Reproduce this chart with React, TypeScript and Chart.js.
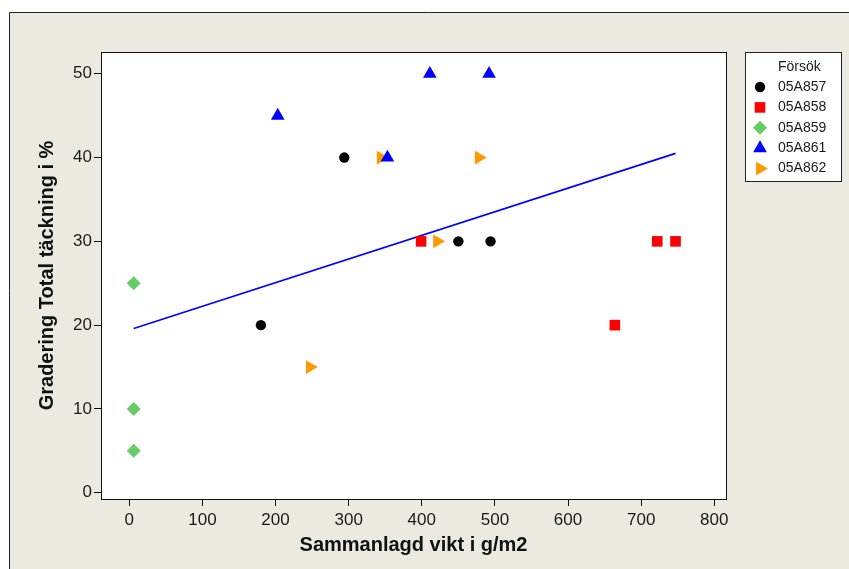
import React, { useEffect, useRef } from 'react';
import { Chart, registerables } from 'chart.js';
import { drawPoint } from 'chart.js/helpers';

Chart.register(...registerables);

// Försök (trial) series: total weight (g/m2) vs. coverage rating (%)
const seriesNames = ['05A857', '05A858', '05A859', '05A861', '05A862'];

const x857 = [180, 294, 450, 494];
const y857 = [20, 40, 30, 30];

const x858 = [399, 722, 747, 664];
const y858 = [30, 30, 30, 20];

const x859 = [6, 6, 6];
const y859 = [25, 10, 5];

const x861 = [203, 411, 492, 353];
const y861 = [45, 50, 50, 40];

const x862 = [344, 421, 478, 247];
const y862 = [40, 30, 40, 15];

// fitted regression line end points
const fitX = [6, 747];
const fitY = [19.6, 40.5];

const xTicks = [0, 100, 200, 300, 400, 500, 600, 700, 800];
const yTicks = [0, 10, 20, 30, 40, 50];

const xTitle = 'Sammanlagd vikt i g/m2';
const yTitle = 'Gradering Total täckning i %';
const legendTitle = 'Försök';

const seriesX = [x857, x858, x859, x861, x862];
const seriesY = [y857, y858, y859, y861, y862];

const colors = ['#000000', '#FF0000', '#66CC66', '#0000FF', '#FF9900'];
const pointStyles = ['circle', 'rect', 'rectRot', 'triangle', 'triangle'];
const rotations = [0, 0, 0, 0, 90];
const radii = [5.2, 7.5, 7, 7.9, 7.9];

const FONT = '"Liberation Sans", Arial, sans-serif';
const BEIGE = '#ECE9E0';
const INK = '#1a1a1a';

const framePlugin = {
  id: 'frame',
  beforeDraw(chart: any) {
    const { ctx, width, height, chartArea } = chart;
    ctx.save();
    ctx.fillStyle = '#ffffff';
    ctx.fillRect(0, 0, width, height);
    ctx.fillStyle = BEIGE;
    ctx.fillRect(9, 12, width - 9, height - 12);
    ctx.strokeStyle = '#222';
    ctx.lineWidth = 1;
    ctx.beginPath();
    ctx.moveTo(9.5, height);
    ctx.lineTo(9.5, 12.5);
    ctx.lineTo(width, 12.5);
    ctx.stroke();
    ctx.fillStyle = '#ffffff';
    ctx.fillRect(chartArea.left, chartArea.top, chartArea.right - chartArea.left, chartArea.bottom - chartArea.top);
    ctx.restore();
  },
  afterDatasetsDraw(chart: any) {
    const { ctx, chartArea } = chart;
    ctx.save();
    ctx.strokeStyle = '#111';
    ctx.lineWidth = 1;
    ctx.strokeRect(chartArea.left + 0.5, chartArea.top + 0.5, chartArea.right - chartArea.left, chartArea.bottom - chartArea.top);
    ctx.restore();
  },
};

const legendPlugin = {
  id: 'trialLegend',
  afterDraw(chart: any) {
    const { ctx } = chart;
    const bx = 745;
    const by = 52;
    const bw = 97;
    const bh = 130;
    ctx.save();
    ctx.fillStyle = '#ffffff';
    ctx.fillRect(bx, by, bw, bh);
    ctx.strokeStyle = '#222';
    ctx.lineWidth = 1;
    ctx.strokeRect(bx + 0.5, by + 0.5, bw - 1, bh - 1);
    ctx.fillStyle = INK;
    ctx.font = `14px ${FONT}`;
    ctx.textBaseline = 'middle';
    ctx.textAlign = 'left';
    ctx.fillText(legendTitle, 778, 67);
    seriesNames.forEach((name, i) => {
      const y = 87 + i * 20.4;
      ctx.fillStyle = colors[i];
      drawPoint(ctx, { pointStyle: pointStyles[i], rotation: rotations[i], radius: radii[i], borderWidth: 0 } as any, 760, y);
      ctx.fillStyle = INK;
      ctx.fillText(name, 778, y);
    });
    ctx.restore();
  },
};

export default function App() {
  const ref = useRef<HTMLCanvasElement>(null);

  useEffect(() => {
    const canvas = ref.current;
    if (!canvas) return;

    const datasets: any[] = seriesNames.map((name, i) => ({
      label: name,
      data: seriesX[i].map((x, j) => ({ x, y: seriesY[i][j] })),
      pointStyle: pointStyles[i],
      rotation: rotations[i],
      pointRadius: radii[i],
      pointBackgroundColor: colors[i],
      pointBorderColor: colors[i],
      pointBorderWidth: 0,
      showLine: false,
    }));

    datasets.push({
      label: 'fit',
      data: fitX.map((x, j) => ({ x, y: fitY[j] })),
      showLine: true,
      borderColor: '#0000FF',
      borderWidth: 1.6,
      pointRadius: 0,
      fill: false,
    });

    const chart = new Chart(canvas, {
      type: 'scatter',
      data: { datasets },
      options: {
        responsive: false,
        animation: false,
        devicePixelRatio: 1,
        layout: { padding: { left: 0, top: 52, right: 123, bottom: 0 } },
        plugins: {
          legend: { display: false },
          tooltip: { enabled: false },
        },
        scales: {
          x: {
            type: 'linear',
            min: -38.7,
            max: 816,
            afterBuildTicks: (s: any) => {
              s.ticks = xTicks.map((v) => ({ value: v }));
            },
            afterFit: (s: any) => {
              s.height = 70;
            },
            grid: { display: true, drawOnChartArea: false, drawTicks: true, tickLength: 7, color: '#111', lineWidth: 1 },
            border: { display: true, color: '#111', width: 1 },
            ticks: { font: { family: FONT, size: 17 }, color: INK, padding: 4, maxRotation: 0, autoSkip: false },
            title: {
              display: true,
              text: xTitle,
              color: '#111',
              font: { family: FONT, size: 20, weight: 'bold' },
              padding: { top: 0, bottom: 12 },
            },
          },
          y: {
            type: 'linear',
            min: -0.75,
            max: 52.6,
            afterBuildTicks: (s: any) => {
              s.ticks = yTicks.map((v) => ({ value: v }));
            },
            afterFit: (s: any) => {
              s.width = 101;
            },
            grid: { display: true, drawOnChartArea: false, drawTicks: true, tickLength: 7, color: '#111', lineWidth: 1 },
            border: { display: true, color: '#111', width: 1 },
            ticks: { font: { family: FONT, size: 17 }, color: INK, padding: 2, autoSkip: false },
            title: {
              display: true,
              text: yTitle,
              color: '#111',
              font: { family: FONT, size: 20, weight: 'bold' },
              padding: { top: 35, bottom: 0 },
            },
          },
        },
      } as any,
      plugins: [framePlugin, legendPlugin],
    });

    return () => chart.destroy();
  }, []);

  return (
    <div style={{ position: 'fixed', left: 0, top: 0, width: 849, height: 569 }}>
      <canvas ref={ref} width={849} height={569} style={{ width: 849, height: 569, display: 'block' }} />
    </div>
  );
}
